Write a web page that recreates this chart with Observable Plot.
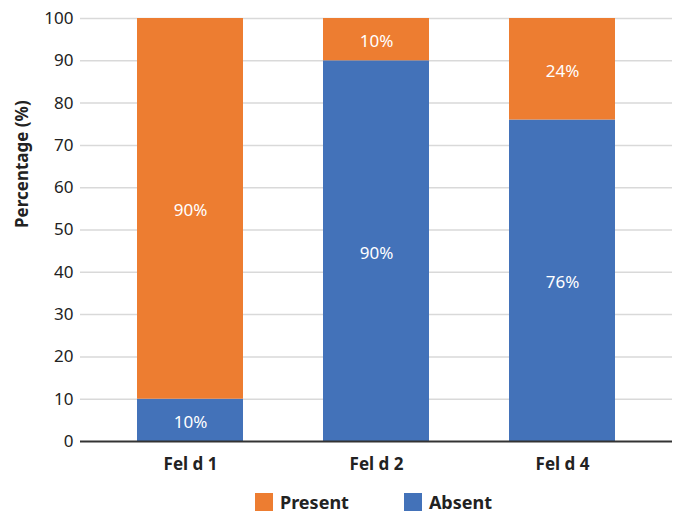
<!DOCTYPE html>
<html>
<head>
<meta charset="utf-8">
<script src="https://cdn.jsdelivr.net/npm/d3@7"></script>
<script src="https://cdn.jsdelivr.net/npm/@observablehq/plot@0.6"></script>
<style>
  body { margin: 0; background: #fff; font-family: "Noto Sans", sans-serif; }
  #chart { width: 675px; }
  .legend { display: flex; justify-content: flex-start; align-items: center; height: 26px; margin-top: 4px; padding-left: 255px; font-weight: bold; font-size: 18px; line-height: 22px; color: #222; }
  .legend .sw { width: 18px; height: 18px; display: inline-block; margin-right: 7px; }
  .legend .item { display: flex; align-items: center; }
</style>
</head>
<body>
<div id="chart"></div>
<script>
const categories = ["Fel d 1", "Fel d 2", "Fel d 4"];
const absent = [10, 90, 76];
const present = [90, 10, 24];
const groups = ["Absent", "Present"];
const colors = ["#4372B9", "#ED7D31"];
const yTicks = [0, 10, 20, 30, 40, 50, 60, 70, 80, 90, 100];

const data = [];
categories.forEach((c, i) => {
  data.push({category: c, group: "Absent", value: absent[i]});
  data.push({category: c, group: "Present", value: present[i]});
});

const plot = Plot.plot({
  width: 675,
  height: 485,
  marginLeft: 80,
  marginRight: 3,
  marginTop: 18,
  marginBottom: 44,
  style: {fontFamily: "Noto Sans, sans-serif", fontSize: "17px", color: "#222"},
  x: {domain: categories, paddingInner: 0.43, paddingOuter: 0.306, label: null, axis: null},
  y: {domain: [0, 100], label: null, axis: null},
  color: {domain: groups, range: colors},
  marks: [
    Plot.ruleY(yTicks.filter(d => d > 0), {stroke: "#d9d9d9", strokeWidth: 1.5}),
    Plot.barY(data, {x: "category", y: "value", fill: "group", order: groups}),
    Plot.ruleY([0], {stroke: "#333", strokeWidth: 2}),
    Plot.text(data, Plot.stackY({x: "category", y: "value", z: "group", order: groups, text: d => d.value + "%", fill: "white", fontSize: 17, dy: 2})),
    Plot.axisY(yTicks, {tickSize: 0, tickPadding: 7, fontSize: 17, fill: "#222", label: null}),
    Plot.axisX({tickSize: 0, tickPadding: 16, fontSize: 17, fontWeight: "bold", fill: "#222", label: null}),
    Plot.text(["Percentage (%)"], {frameAnchor: "left", dx: -58, dy: -2, rotate: -90, fontWeight: "bold", fontSize: 17, fill: "#222"})
  ]
});
document.getElementById("chart").appendChild(plot);

const legend = document.createElement("div");
legend.className = "legend";
const items = [["Present", colors[1]], ["Absent", colors[0]]];
items.forEach(([name, col], i) => {
  const it = document.createElement("span");
  it.className = "item";
  if (i > 0) it.style.marginLeft = "55px";
  const sw = document.createElement("span");
  sw.className = "sw";
  sw.style.background = col;
  it.appendChild(sw);
  it.appendChild(document.createTextNode(name));
  legend.appendChild(it);
});
document.getElementById("chart").appendChild(legend);
</script>
</body>
</html>
